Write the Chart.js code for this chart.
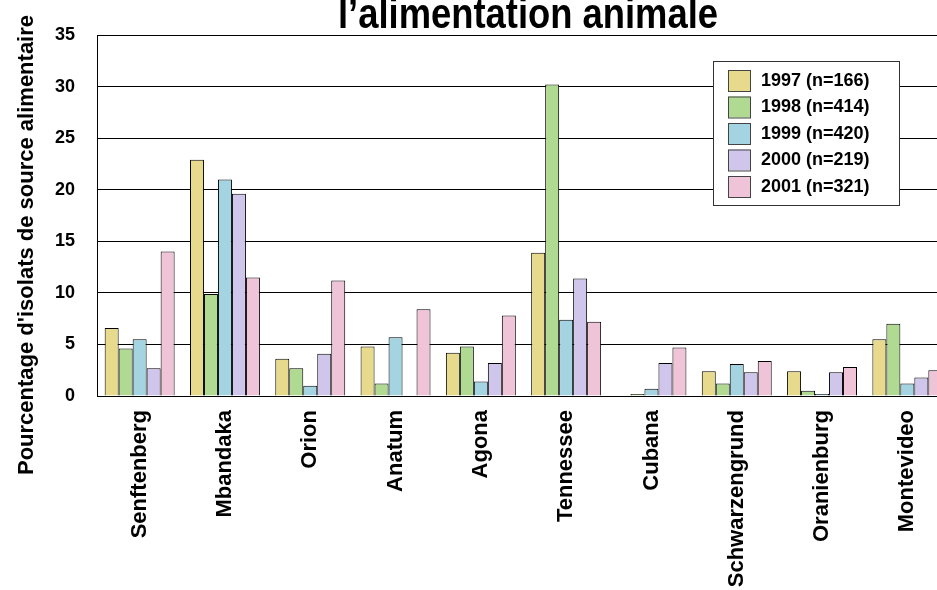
<!DOCTYPE html>
<html>
<head>
<meta charset="utf-8">
<script src="https://cdn.jsdelivr.net/npm/chart.js@4/dist/chart.umd.min.js"></script>
<style>
  html, body { margin: 0; padding: 0; overflow: hidden; background: #fff; }
  #wrap { width: 952px; height: 590px; }
</style>
</head>
<body>
<div id="wrap"><canvas id="graph" width="952" height="590"></canvas></div>
<script>
const serotypes = ['Senftenberg', 'Mbandaka', 'Orion', 'Anatum', 'Agona', 'Tennessee', 'Cubana', 'Schwarzengrund', 'Oranienburg', 'Montevideo'];
const annees = ['1997 (n=166)', '1998 (n=414)', '1999 (n=420)', '2000 (n=219)', '2001 (n=321)'];
const valeurs_1997 = [6.6, 22.9, 3.6, 4.8, 4.2, 13.9, 0, 2.4, 2.4, 5.5];
const valeurs_1998 = [4.6, 9.9, 2.7, 1.2, 4.8, 30.2, 0.2, 1.2, 0.5, 7.0];
const valeurs_1999 = [5.5, 21.0, 1.0, 5.7, 1.4, 7.4, 0.7, 3.1, 0.2, 1.2];
const valeurs_2000 = [2.7, 19.6, 4.1, 0, 3.2, 11.4, 3.2, 2.3, 2.3, 1.8];
const valeurs_2001 = [14.0, 11.5, 11.2, 8.4, 7.8, 7.2, 4.7, 3.4, 2.8, 2.5];
const couleurs = ['#e8da8c', '#b0da92', '#a4d4e2', '#d0c6ec', '#f0c4d8'];
const ticks_y = [0, 5, 10, 15, 20, 25, 30, 35];

const titre = 'l\u2019alimentation animale';
const titre_y = "Pourcentage d'isolats de source alimentaire";

const toutes = [valeurs_1997, valeurs_1998, valeurs_1999, valeurs_2000, valeurs_2001];

// titre, titre de l'axe y et legende dessines a la main
const decor = {
    id: 'decor',
    afterDraw(chart) {
        const ctx = chart.ctx;
        ctx.save();
        ctx.fillStyle = '#000';

        // titre (coupe en haut comme sur l'original), police etroite simulee
        ctx.font = 'bold 42px "Liberation Sans", Arial';
        const larg = ctx.measureText(titre).width;
        const sx = 380 / larg;
        ctx.translate(528, 28);
        ctx.scale(sx, 1);
        ctx.textAlign = 'center';
        ctx.textBaseline = 'alphabetic';
        ctx.fillText(titre, 0, 0);
        ctx.setTransform(1, 0, 0, 1, 0, 0);

        // titre axe y
        ctx.font = 'bold 22px "Liberation Sans", Arial';
        ctx.translate(33, 245);
        ctx.rotate(-Math.PI / 2);
        ctx.textAlign = 'center';
        ctx.fillText(titre_y, 0, 0);
        ctx.setTransform(1, 0, 0, 1, 0, 0);

        // legende
        ctx.fillStyle = '#fff';
        ctx.fillRect(713, 61, 186, 144);
        ctx.strokeStyle = '#333';
        ctx.lineWidth = 1;
        ctx.strokeRect(713.5, 61.5, 186, 144);
        ctx.font = 'bold 18px "Liberation Sans", Arial';
        ctx.textAlign = 'left';
        ctx.textBaseline = 'middle';
        chart.data.datasets.forEach((ds, i) => {
            const y = 80 + i * 26.5;
            ctx.fillStyle = ds.backgroundColor;
            ctx.fillRect(728, y - 10, 22, 21);
            ctx.strokeStyle = '#444';
            ctx.strokeRect(728.5, y - 10 + 0.5, 22, 21);
            ctx.fillStyle = '#000';
            ctx.fillText(ds.label, 761, y + 1);
        });
        ctx.restore();
    }
};

const graphique = new Chart(document.getElementById('graph'), {
    type: 'bar',
    data: {
        labels: serotypes,
        datasets: annees.map((a, i) => ({
            label: a,
            data: toutes[i],
            backgroundColor: couleurs[i],
            borderColor: '#000',
            borderWidth: 1,
            categoryPercentage: 0.82,
            barPercentage: 1.0
        }))
    },
    options: {
        responsive: false,
        animation: false,
        layout: { padding: { top: 35, right: 2, left: 0, bottom: 0 } },
        plugins: {
            legend: { display: false },
            tooltip: { enabled: false }
        },
        scales: {
            y: {
                min: 0,
                max: 35,
                afterFit: (s) => { s.width = 97; },
                afterBuildTicks: (s) => { s.ticks = ticks_y.map(v => ({ value: v })); },
                grid: { color: '#000', lineWidth: 1, drawTicks: false },
                border: { color: '#000', width: 1 },
                ticks: {
                    color: '#000',
                    padding: 22,
                    font: { family: '"Liberation Sans", Arial', size: 18, weight: 'bold' }
                }
            },
            x: {
                afterFit: (s) => { s.height = 194; },
                grid: { display: false, drawTicks: false },
                border: { color: '#000', width: 1 },
                ticks: {
                    color: '#000',
                    padding: 14,
                    maxRotation: 90,
                    minRotation: 90,
                    autoSkip: false,
                    font: { family: '"Liberation Sans", Arial', size: 22, weight: 'bold' }
                }
            }
        }
    },
    plugins: [decor]
});
</script>
</body>
</html>
